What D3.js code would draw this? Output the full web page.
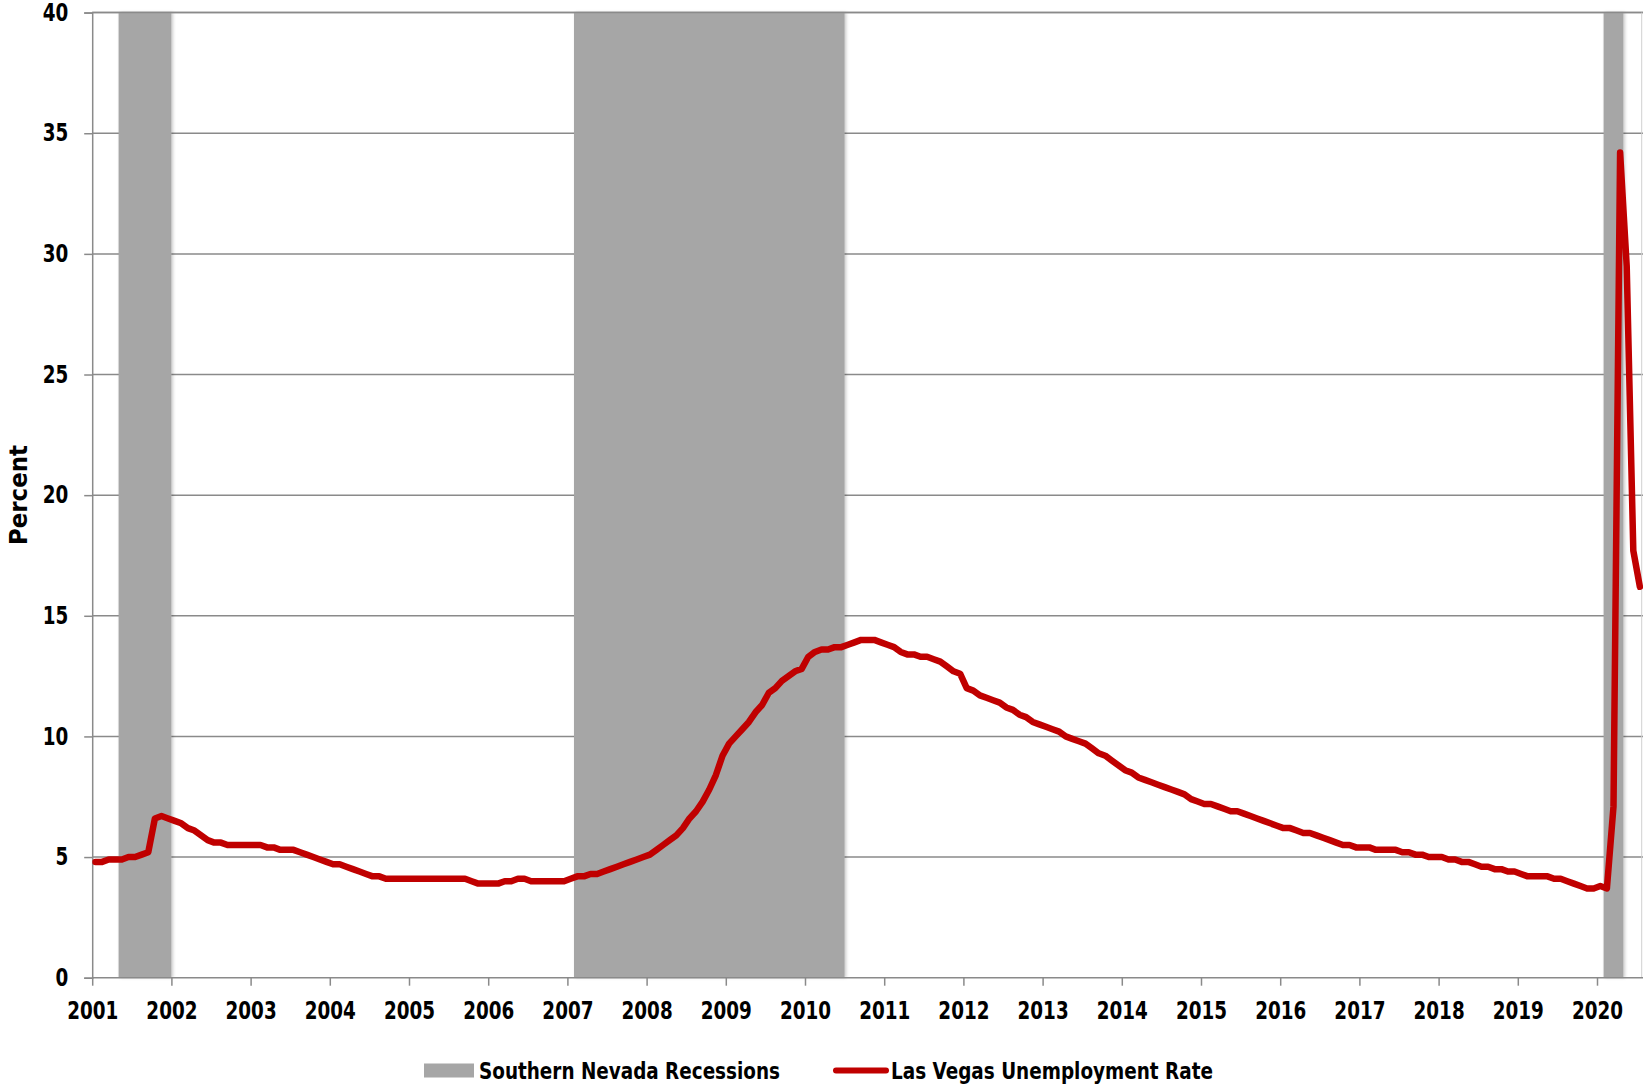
<!DOCTYPE html>
<html>
<head>
<meta charset="utf-8">
<script src="https://cdn.jsdelivr.net/npm/d3@7"></script>
<style>
  html, body { margin: 0; padding: 0; background: #fff; }
  svg { display: block; }
  text { font-family: "DejaVu Sans Condensed", "DejaVu Sans", sans-serif; font-weight: bold; fill: #000; }
</style>
</head>
<body>
<svg id="chart" width="1643" height="1088"></svg>
<script>
// ---------------- DATA ----------------
const years = d3.range(2001, 2021);            // tick labels 2001 … 2020
const firstMonth = "2001-01";
const lastMonth = "2020-07";

// Las Vegas unemployment rate (%), monthly Jan 2001 – Jul 2020
const unemploymentRate = [
  4.8, 4.8, 4.9, 4.9, 4.9, 5.0, 5.0, 5.1, 5.2, 6.6, 6.7, 6.6,   // 2001
  6.5, 6.4, 6.2, 6.1, 5.9, 5.7, 5.6, 5.6, 5.5, 5.5, 5.5, 5.5,   // 2002
  5.5, 5.5, 5.4, 5.4, 5.3, 5.3, 5.3, 5.2, 5.1, 5.0, 4.9, 4.8,   // 2003
  4.7, 4.7, 4.6, 4.5, 4.4, 4.3, 4.2, 4.2, 4.1, 4.1, 4.1, 4.1,   // 2004
  4.1, 4.1, 4.1, 4.1, 4.1, 4.1, 4.1, 4.1, 4.1, 4.0, 3.9, 3.9,   // 2005
  3.9, 3.9, 4.0, 4.0, 4.1, 4.1, 4.0, 4.0, 4.0, 4.0, 4.0, 4.0,   // 2006
  4.1, 4.2, 4.2, 4.3, 4.3, 4.4, 4.5, 4.6, 4.7, 4.8, 4.9, 5.0,   // 2007
  5.1, 5.3, 5.5, 5.7, 5.9, 6.2, 6.6, 6.9, 7.3, 7.8, 8.4, 9.2,   // 2008
  9.7, 10.0, 10.3, 10.6, 11.0, 11.3, 11.8, 12.0, 12.3, 12.5, 12.7, 12.8, // 2009
  13.3, 13.5, 13.6, 13.6, 13.7, 13.7, 13.8, 13.9, 14.0, 14.0, 14.0, 13.9, // 2010
  13.8, 13.7, 13.5, 13.4, 13.4, 13.3, 13.3, 13.2, 13.1, 12.9, 12.7, 12.6, // 2011
  12.0, 11.9, 11.7, 11.6, 11.5, 11.4, 11.2, 11.1, 10.9, 10.8, 10.6, 10.5, // 2012
  10.4, 10.3, 10.2, 10.0, 9.9, 9.8, 9.7, 9.5, 9.3, 9.2, 9.0, 8.8,   // 2013
  8.6, 8.5, 8.3, 8.2, 8.1, 8.0, 7.9, 7.8, 7.7, 7.6, 7.4, 7.3,   // 2014
  7.2, 7.2, 7.1, 7.0, 6.9, 6.9, 6.8, 6.7, 6.6, 6.5, 6.4, 6.3,   // 2015
  6.2, 6.2, 6.1, 6.0, 6.0, 5.9, 5.8, 5.7, 5.6, 5.5, 5.5, 5.4,   // 2016
  5.4, 5.4, 5.3, 5.3, 5.3, 5.3, 5.2, 5.2, 5.1, 5.1, 5.0, 5.0,   // 2017
  5.0, 4.9, 4.9, 4.8, 4.8, 4.7, 4.6, 4.6, 4.5, 4.5, 4.4, 4.4,   // 2018
  4.3, 4.2, 4.2, 4.2, 4.2, 4.1, 4.1, 4.0, 3.9, 3.8, 3.7, 3.7,   // 2019
  3.8, 3.7, 7.1, 34.2, 29.5, 17.7, 16.2                          // 2020
];

// Southern Nevada recessions (first and last month shaded)
const recessionStart = ["2001-05", "2007-02", "2020-02"];
const recessionEnd   = ["2001-12", "2010-06", "2020-04"];

const yTicks = [0, 5, 10, 15, 20, 25, 30, 35, 40];
const legendLabels = ["Southern Nevada Recessions", "Las Vegas Unemployment Rate"];
const yTitle = "Percent";

// ---------------- BUILD ----------------
const fmt = d3.timeFormat("%Y-%m");
const parse = d3.timeParse("%Y-%m");
const months = d3.timeMonth.range(parse(firstMonth), d3.timeMonth.offset(parse(lastMonth), 1)).map(fmt);
const series = months.map((m, i) => ({ month: m, value: unemploymentRate[i] }));

const svg = d3.select("#chart");
const pL = 92.2, pR = 1643.2, pT = 12.6, pB = 977.7;

const x = d3.scaleBand().domain(months).range([pL, pR]).paddingInner(0).paddingOuter(0);
const y = d3.scaleLinear().domain([0, 40]).range([pB, pT]);

function squeeze(sel, factor) {
  sel.each(function () {
    const w = this.getComputedTextLength();
    d3.select(this).attr("textLength", w * factor).attr("lengthAdjust", "spacingAndGlyphs");
  });
}

const defs = svg.append("defs");
const f = defs.append("filter").attr("id", "shadow").attr("x", "-20%").attr("y", "-5%").attr("width", "140%").attr("height", "110%");
f.append("feDropShadow").attr("dx", 1.5).attr("dy", 0).attr("stdDeviation", 1.6).attr("flood-color", "#000").attr("flood-opacity", 0.22);

// gridlines
svg.append("g").selectAll("line").data(yTicks.filter(d => d > 0)).join("line")
  .attr("x1", pL).attr("x2", pR)
  .attr("y1", d => y(d)).attr("y2", d => y(d))
  .attr("stroke", "#8a8a8a").attr("stroke-width", 1.5);

// recession bars
svg.append("g").selectAll("rect").data(recessionStart.map((s, i) => ({ s, e: recessionEnd[i] }))).join("rect")
  .attr("x", d => x(d.s))
  .attr("width", d => x(d.e) + x.bandwidth() - x(d.s))
  .attr("y", y(40))
  .attr("height", y(0) - y(40))
  .attr("fill", "#a6a6a6")
  .attr("filter", "url(#shadow)");

// top gridline over bars
svg.append("line").attr("x1", pL).attr("x2", pR).attr("y1", y(40)).attr("y2", y(40))
  .attr("stroke", "#8a8a8a").attr("stroke-width", 1.5);
// right border
svg.append("line").attr("x1", pR - 1.5).attr("x2", pR - 1.5).attr("y1", y(40)).attr("y2", y(0))
  .attr("stroke", "#d0d0d0").attr("stroke-width", 1);

// y axis
const yAxis = d3.axisLeft(y).tickValues(yTicks).tickSize(8).tickPadding(16).tickFormat(d3.format("d"));
const gy = svg.append("g").attr("transform", `translate(${pL},0)`).call(yAxis);
gy.select(".domain").attr("stroke", "#8a8a8a").attr("stroke-width", 1.5);
gy.selectAll(".tick line").attr("stroke", "#8a8a8a").attr("stroke-width", 1.5);
gy.selectAll(".tick text").attr("font-size", 24).attr("fill", "#000")
  .style("font-family", "'DejaVu Sans Condensed', 'DejaVu Sans', sans-serif").style("font-weight", "bold");
squeeze(gy.selectAll(".tick text"), 0.85);

// x axis (year boundaries)
const xYear = d3.scaleLinear().domain([2001, 2001 + months.length / 12]).range([pL, pR]);
const xAxis = d3.axisBottom(xYear).tickValues(years).tickSize(8).tickPadding(16).tickFormat(d3.format("d"));
const gx = svg.append("g").attr("transform", `translate(0,${pB})`).call(xAxis);
gx.select(".domain").attr("stroke", "#8a8a8a").attr("stroke-width", 1.5).attr("d", `M${pL},0H${pR}`);
gx.selectAll(".tick line").attr("stroke", "#8a8a8a").attr("stroke-width", 1.5);
gx.selectAll(".tick text").attr("font-size", 24).attr("fill", "#000")
  .style("font-family", "'DejaVu Sans Condensed', 'DejaVu Sans', sans-serif").style("font-weight", "bold");
squeeze(gx.selectAll(".tick text"), 0.85);

// line
const line = d3.line().x(d => x(d.month) + x.bandwidth() / 2).y(d => y(d.value));
svg.append("path").datum(series)
  .attr("d", line)
  .attr("fill", "none")
  .attr("stroke", "#c00000")
  .attr("stroke-width", 6.5)
  .attr("stroke-linejoin", "round")
  .attr("stroke-linecap", "round");

// y title
svg.append("text")
  .attr("transform", `translate(27,495) rotate(-90)`)
  .attr("text-anchor", "middle")
  .attr("font-size", 24)
  .attr("textLength", 100).attr("lengthAdjust", "spacingAndGlyphs")
  .text(yTitle);

// legend
const lg = svg.append("g");
lg.append("rect").attr("x", 424).attr("y", 1063.5).attr("width", 50).attr("height", 14).attr("fill", "#a6a6a6");
lg.append("text").attr("x", 479).attr("y", 1078.5).attr("font-size", 23)
  .attr("textLength", 301).attr("lengthAdjust", "spacingAndGlyphs").text(legendLabels[0]);
lg.append("line").attr("x1", 836).attr("x2", 886).attr("y1", 1070.5).attr("y2", 1070.5)
  .attr("stroke", "#c00000").attr("stroke-width", 6).attr("stroke-linecap", "round");
lg.append("text").attr("x", 891).attr("y", 1078.5).attr("font-size", 23)
  .attr("textLength", 322).attr("lengthAdjust", "spacingAndGlyphs").text(legendLabels[1]);
</script>
</body>
</html>
